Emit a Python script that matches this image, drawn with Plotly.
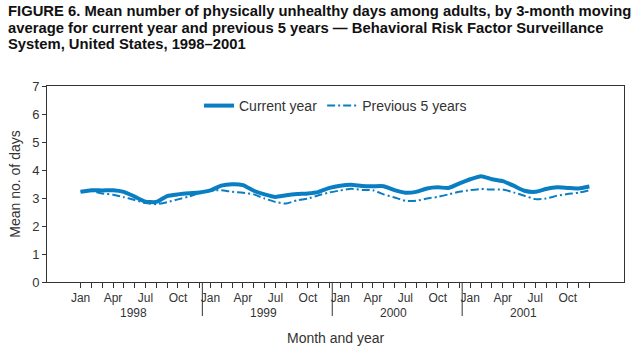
import plotly.graph_objects as go

month_index = list(range(48))
month_labels = ["Jan", "", "", "Apr", "", "", "Jul", "", "", "Oct", "", ""] * 4
years = ["1998", "1999", "2000", "2001"]

current_year = [
    3.22, 3.28, 3.27, 3.28, 3.22, 3.05, 2.87, 2.86, 3.07, 3.13, 3.17, 3.20,
    3.27, 3.44, 3.49, 3.46, 3.26, 3.13, 3.04, 3.10, 3.14, 3.16, 3.22, 3.36,
    3.44, 3.47, 3.43, 3.42, 3.42, 3.28, 3.19, 3.22, 3.34, 3.38, 3.36, 3.52,
    3.67, 3.78, 3.67, 3.60, 3.44, 3.26, 3.22, 3.32, 3.38, 3.36, 3.34, 3.41,
]
previous_5_years = [
    3.22, 3.25, 3.16, 3.12, 3.03, 2.93, 2.82, 2.78, 2.85, 2.95, 3.05, 3.18,
    3.26, 3.28, 3.22, 3.19, 3.13, 2.98, 2.86, 2.80, 2.92, 2.98, 3.10, 3.20,
    3.27, 3.33, 3.29, 3.28, 3.13, 3.02, 2.90, 2.90, 2.98, 3.04, 3.13, 3.22,
    3.28, 3.32, 3.30, 3.30, 3.20, 3.08, 2.96, 2.98, 3.08, 3.14, 3.19, 3.28,
]
title_lines = [
    "FIGURE 6. Mean number of physically unhealthy days among adults, by 3-month moving",
    "average for current year and previous 5 years \u2014 Behavioral Risk Factor Surveillance",
    "System, United States, 1998\u20132001",
]

BLUE = "#0a7ec2"
TXT = "#333333"
FONT = "Liberation Sans, Arial, sans-serif"

PLOT_L, PLOT_T, PLOT_B, H = 47, 86, 282, 351
PLOT_W = 640 - PLOT_L - 16
PLOT_H = PLOT_B - PLOT_T


def px_to_paper_x(px):
    return (px - PLOT_L) / PLOT_W


def px_to_paper_y(py):
    return (PLOT_B - py) / PLOT_H


fig = go.Figure()
fig.add_trace(go.Scatter(
    x=month_index, y=current_year, mode="lines", name="Current year",
    line=dict(color=BLUE, width=4, shape="spline", smoothing=0.5),
))
fig.add_trace(go.Scatter(
    x=month_index, y=previous_5_years, mode="lines", name="Previous 5 years",
    line=dict(color=BLUE, width=2, dash="8px,3px,2px,3px", shape="spline", smoothing=0.5),
))

# title lines
for i, line in enumerate(title_lines):
    fig.add_annotation(x=px_to_paper_x(6), y=px_to_paper_y(11 + 16.7 * i),
                       xref="paper", yref="paper", text="<b>" + line + "</b>",
                       showarrow=False, xanchor="left", yanchor="middle", align="left",
                       font=dict(size=14.8, color="#111111", family=FONT))

# year separators and labels
for k, yr in enumerate(years):
    fig.add_annotation(x=4.9 + 12 * k, y=px_to_paper_y(313), xref="x", yref="paper",
                       text=yr, showarrow=False, yanchor="middle",
                       font=dict(size=12, color=TXT, family=FONT))
    if k < 3:
        fig.add_shape(type="line", xref="x", yref="paper",
                      x0=11.25 + 12 * k, x1=11.25 + 12 * k, y0=0, y1=px_to_paper_y(316),
                      line=dict(color=TXT, width=1))

fig.add_annotation(x=0.5, y=px_to_paper_y(338), xref="paper", yref="paper",
                   text="Month and year", showarrow=False, yanchor="middle",
                   font=dict(size=14, color=TXT, family=FONT))

fig.update_layout(
    width=640, height=351,
    margin=dict(l=PLOT_L, r=16, t=PLOT_T, b=H - PLOT_B),
    paper_bgcolor="white", plot_bgcolor="white",
    font=dict(family=FONT, color=TXT),
    showlegend=True,
    legend=dict(orientation="h", x=0.5, xanchor="center", y=px_to_paper_y(106), yanchor="middle",
                font=dict(size=14, color=TXT, family=FONT), itemwidth=30,
                bgcolor="rgba(0,0,0,0)"),
    xaxis=dict(
        range=[-3.1, 50.2], tickmode="array", tickvals=month_index, ticktext=month_labels,
        ticks="outside", ticklen=5, tickcolor=TXT, showgrid=False, zeroline=False,
        showline=True, linecolor=TXT, linewidth=1, mirror=True,
        tickfont=dict(size=12, color=TXT, family=FONT),
    ),
    yaxis=dict(
        range=[0, 7], tickvals=[0, 1, 2, 3, 4, 5, 6, 7], ticks="outside", ticklen=4,
        tickcolor=TXT, showgrid=False, zeroline=False,
        showline=True, linecolor=TXT, linewidth=1, mirror=True,
        tickfont=dict(size=13, color=TXT, family=FONT),
        title=dict(text="Mean no. of days", font=dict(size=14, color=TXT, family=FONT), standoff=8),
    ),
)

fig.write_html("out.html")
